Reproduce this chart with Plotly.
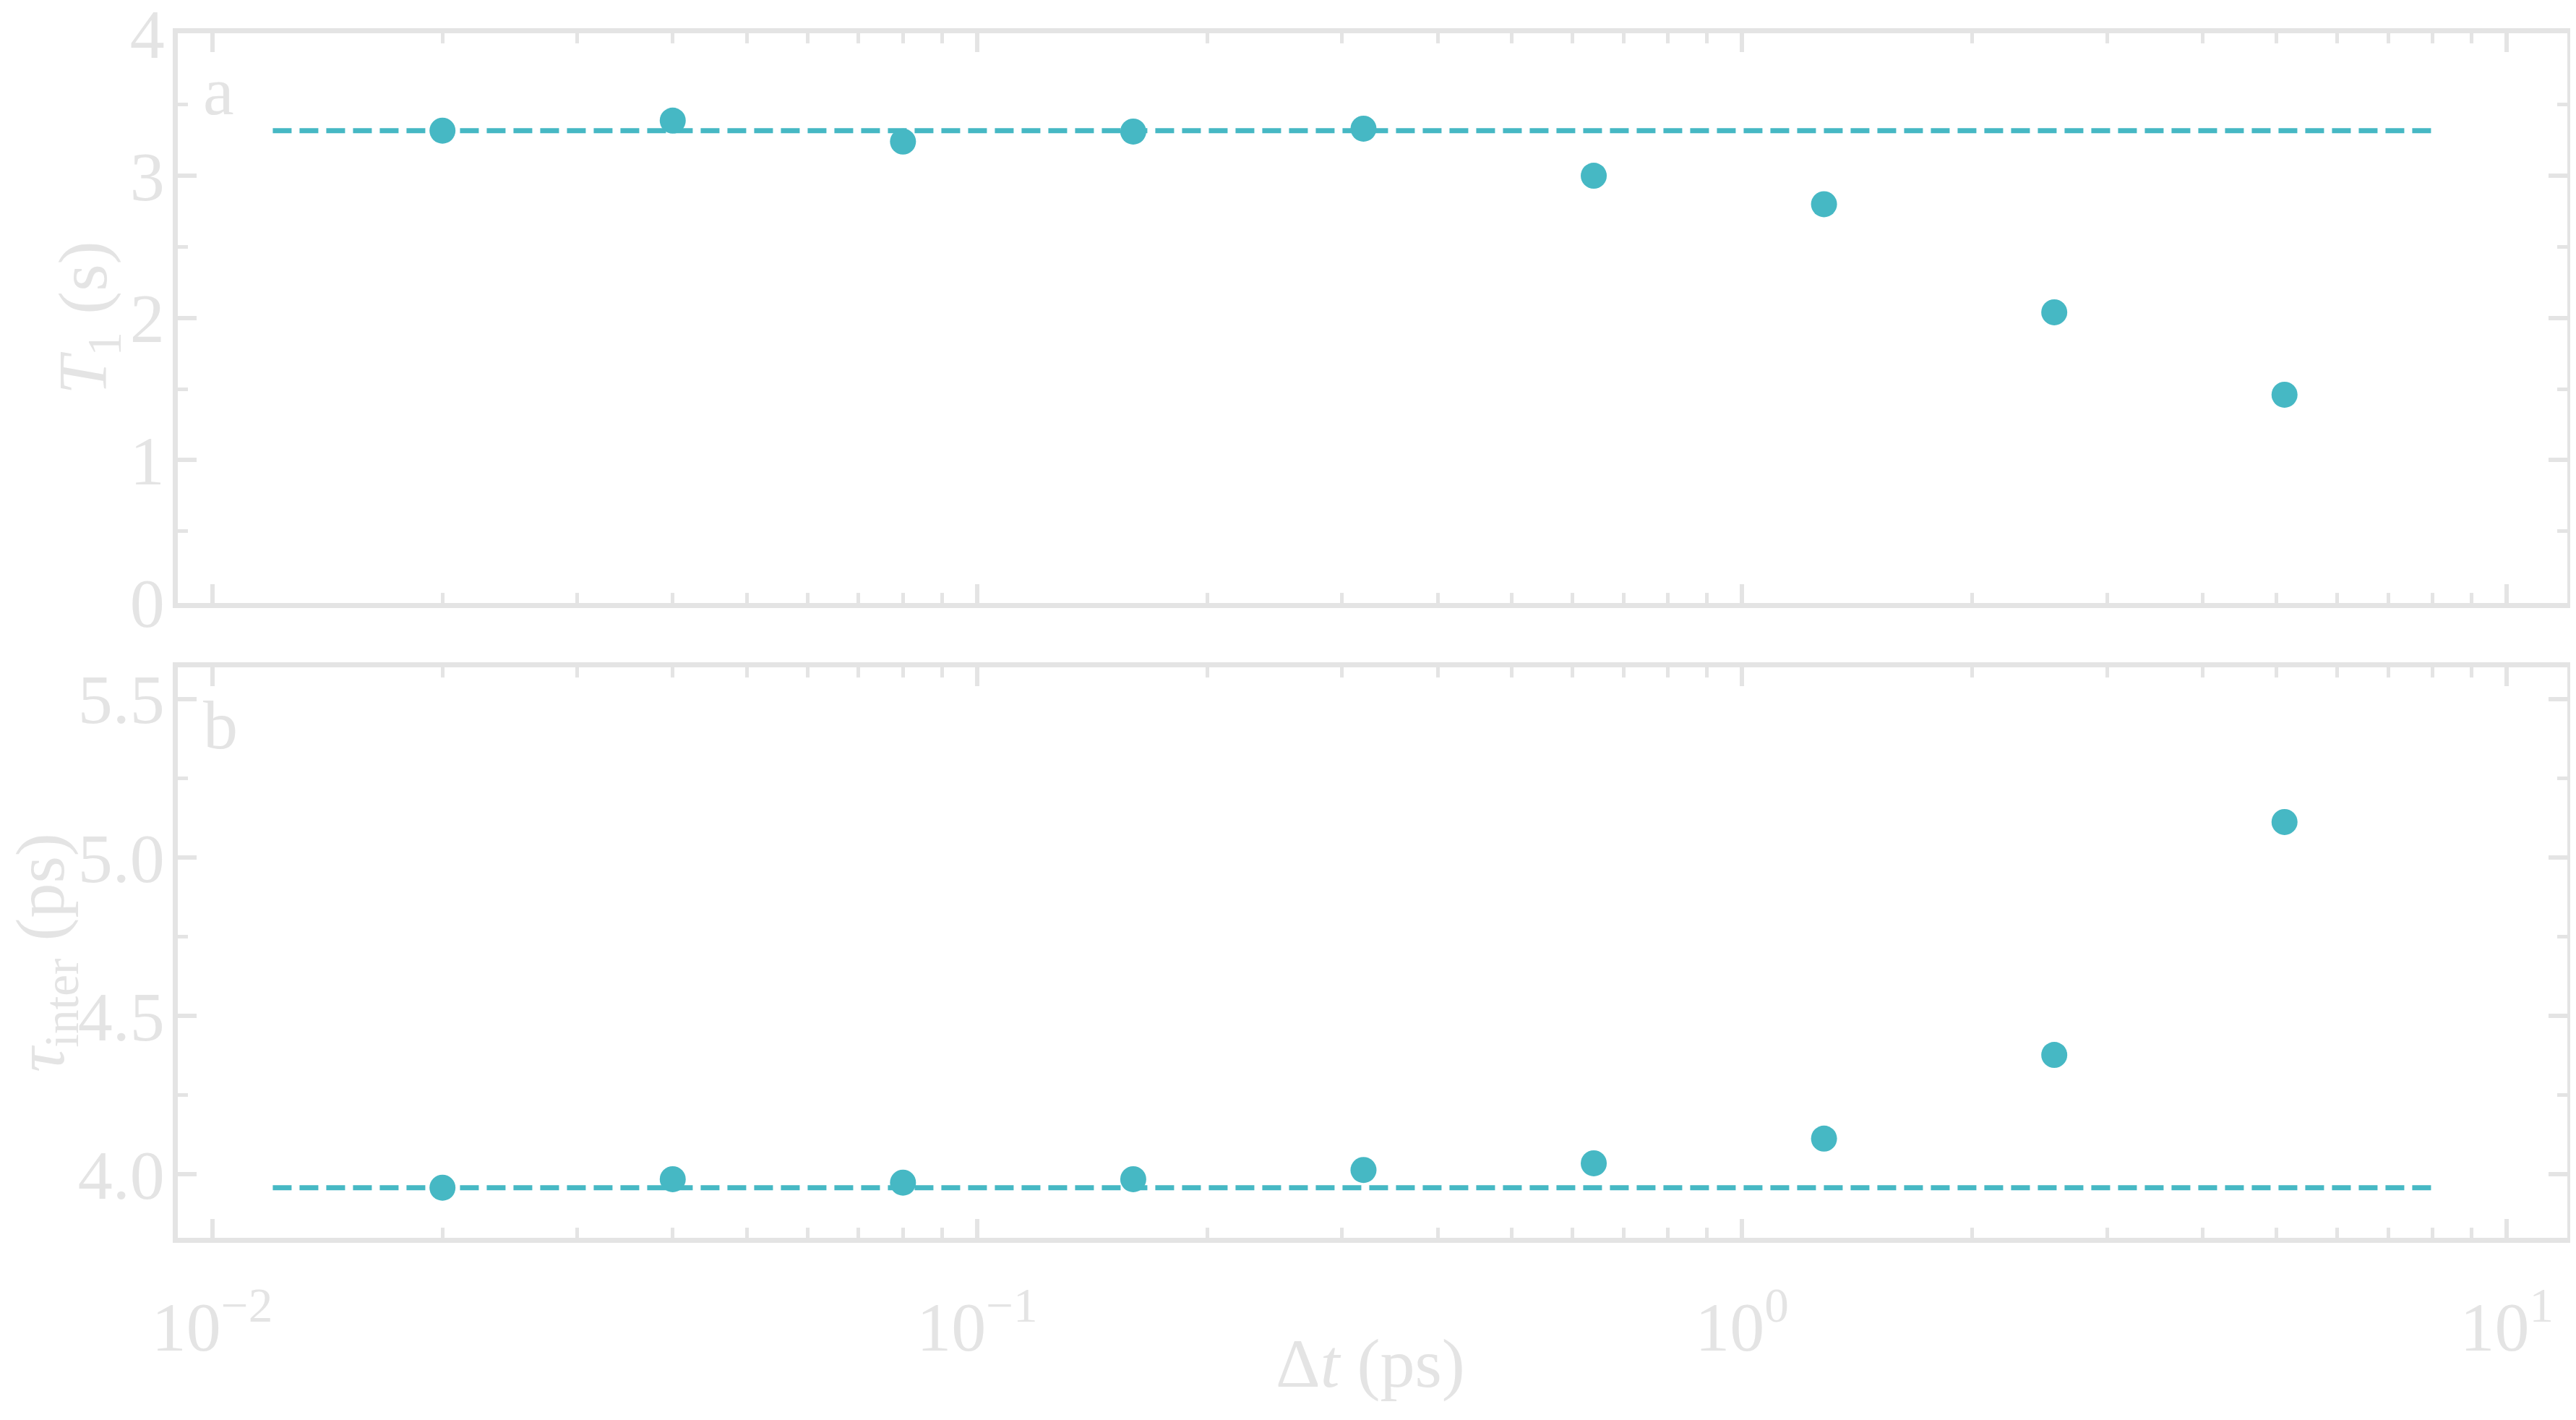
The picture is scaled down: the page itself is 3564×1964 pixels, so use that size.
import plotly.graph_objects as go

# ---- data ----
dt = [0.02, 0.04, 0.08, 0.16, 0.32, 0.64, 1.28, 2.56, 5.12]
T1 = [3.317, 3.388, 3.240, 3.311, 3.331, 3.00, 2.80, 2.04, 1.46]
tau_inter = [3.958, 3.985, 3.974, 3.985, 4.014, 4.035, 4.113, 4.377, 5.112]
fit_x = [0.012, 8.0]
T1_fit = [3.317, 3.317]
tau_fit = [3.958, 3.958]

x_tickvals = [0.01, 0.1, 1, 10]
x_ticktext = ["10<sup>\u22122</sup>", "10<sup>\u22121</sup>", "10<sup>0</sup>", "10<sup>1</sup>"]
x_minor = [m * 10 ** e for e in (-2, -1, 0) for m in range(2, 10)]
y1_tickvals = [0, 1, 2, 3, 4]
y1_ticktext = ["0", "1", "2", "3", "4"]
y1_minor = [0.5, 1.5, 2.5, 3.5]
y2_tickvals = [4.0, 4.5, 5.0, 5.5]
y2_ticktext = ["4.0", "4.5", "5.0", "5.5"]
y2_minor = [4.25, 4.75, 5.25]
panel_labels = ["a", "b"]
x_title = "\u0394<i>t</i> (ps)"
y1_title = "<i>T</i><sub>1</sub> (s)"
y2_title = "<i>\u03c4</i><sub>inter</sub> (ps)"

# ---- style ----
GREY = "#e4e4e4"
TEAL = "#46b8c4"
FONT = "Liberation Serif"
FS = 96

fig = go.Figure()

fig.add_trace(go.Scatter(x=fit_x, y=T1_fit, mode="lines",
                         line=dict(color=TEAL, width=7, dash="26px,11px"),
                         xaxis="x", yaxis="y", showlegend=False, hoverinfo="skip"))
fig.add_trace(go.Scatter(x=dt, y=T1, mode="markers",
                         marker=dict(color=TEAL, size=36, line=dict(width=0)),
                         xaxis="x", yaxis="y", showlegend=False))
fig.add_trace(go.Scatter(x=fit_x, y=tau_fit, mode="lines",
                         line=dict(color=TEAL, width=7, dash="26px,11px"),
                         xaxis="x2", yaxis="y2", showlegend=False, hoverinfo="skip"))
fig.add_trace(go.Scatter(x=dt, y=tau_inter, mode="markers",
                         marker=dict(color=TEAL, size=36, line=dict(width=0)),
                         xaxis="x2", yaxis="y2", showlegend=False))

common_ax = dict(showline=True, linecolor=GREY, linewidth=7, mirror="allticks",
                 ticks="inside", tickcolor=GREY, tickwidth=6, ticklen=26,
                 showgrid=False, zeroline=False, ticklabeloverflow="allow",
                 automargin=False,
                 tickfont=dict(family=FONT, size=FS, color=GREY))

minor_style = dict(tickmode="array", ticks="inside", ticklen=14, tickwidth=5,
                   tickcolor=GREY, showgrid=False)

xax = dict(common_ax, type="log", range=[-2.045, 1.079],
           tickmode="array", tickvals=x_tickvals, ticktext=x_ticktext,
           ticklabelstandoff=34,
           minor=dict(minor_style, tickvals=x_minor))

# page has an 8px body margin: figure is shifted by 8px right and down
fig.update_layout(
    width=3556, height=1956,
    paper_bgcolor="white", plot_bgcolor="white",
    margin=dict(l=238, r=12, t=38, b=252, autoexpand=False),
    font=dict(family=FONT, size=FS, color=GREY),
    xaxis=dict(xax, domain=[0, 1], anchor="y", showticklabels=False),
    yaxis=dict(common_ax, domain=[0.5273, 1], anchor="x", range=[-0.002, 4.002],
               tickmode="array", tickvals=y1_tickvals, ticktext=y1_ticktext,
               ticklabelstandoff=-8,
               minor=dict(minor_style, tickvals=y1_minor)),
    xaxis2=dict(xax, domain=[0, 1], anchor="y2"),
    yaxis2=dict(common_ax, domain=[0, 0.4736], anchor="x2", range=[3.8, 5.6],
                tickmode="array", tickvals=y2_tickvals, ticktext=y2_ticktext,
                ticklabelstandoff=-8,
                minor=dict(minor_style, tickvals=y2_minor)),
)

for lab, yref, xref in zip(panel_labels, ["y domain", "y2 domain"], ["x domain", "x2 domain"]):
    fig.add_annotation(text=lab, xref=xref, yref=yref, x=0.010, y=0.899,
                       xanchor="left", yanchor="middle", showarrow=False,
                       font=dict(family=FONT, size=FS, color=GREY))

# axis titles
fig.add_annotation(text=x_title, xref="paper", yref="paper", x=0.499, y=-0.1044,
                   xanchor="center", yanchor="middle", showarrow=False,
                   font=dict(family=FONT, size=FS, color=GREY))
fig.add_annotation(text=y1_title, xref="paper", yref="y domain", x=-0.0375, y=0.5,
                   textangle=-90, xanchor="center", yanchor="middle", showarrow=False,
                   font=dict(family=FONT, size=FS, color=GREY))
fig.add_annotation(text=y2_title, xref="paper", yref="y2 domain", x=-0.0555, y=0.5,
                   textangle=-90, xanchor="center", yanchor="middle", showarrow=False,
                   font=dict(family=FONT, size=FS, color=GREY))

fig.write_html("out.html")
